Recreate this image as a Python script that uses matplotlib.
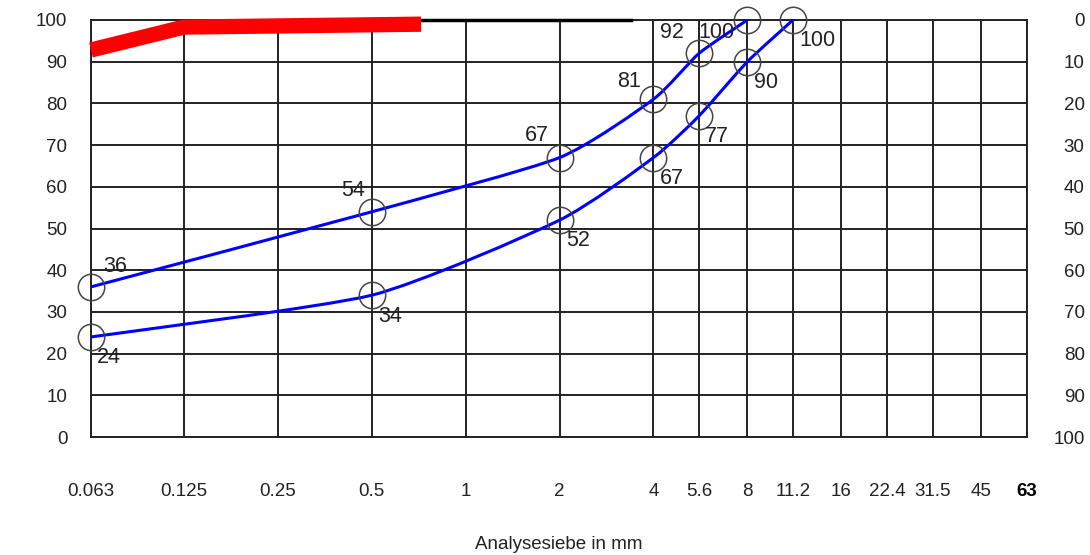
import numpy as np
import matplotlib
matplotlib.use("Agg")
import matplotlib.pyplot as plt
from matplotlib import font_manager as fm
from matplotlib.path import Path
from matplotlib.patches import PathPatch

sieves = [0.063, 0.125, 0.25, 0.5, 1, 2, 4, 5.6, 8, 11.2, 16, 22.4, 31.5, 45, 63]
sieve_labels = ["0.063", "0.125", "0.25", "0.5", "1", "2", "4", "5.6", "8", "11.2",
                "16", "22.4", "31.5", "45", "63"]

upper_x = [0.063, 0.5, 2, 4, 5.6, 8]
upper_y = [36, 54, 67, 81, 92, 100]
lower_x = [0.063, 0.5, 2, 4, 5.6, 8, 11.2]
lower_y = [24, 34, 52, 67, 77, 90, 100]

red_x = [0.063, 0.125, 0.72]
red_y = [92.8, 98.3, 99.0]
black_x = [0.72, 3.4]
black_y = [100, 100]

left_ticks = list(range(0, 101, 10))
right_labels = [str(100 - v) for v in left_ticks]

names = {f.name for f in fm.fontManager.ttflist}
base_font = "Liberation Sans" if "Liberation Sans" in names else "DejaVu Sans"
narrow_font = "Liberation Sans Narrow" if "Liberation Sans Narrow" in names else base_font
plt.rcParams["font.family"] = base_font

fig = plt.figure(figsize=(10.9, 5.55), dpi=100)
ax = fig.add_axes([91/1090, 1-437/555, (1027-91)/1090, (437-20)/555])
ax.set_xscale("log")
ax.set_xlim(0.063, 63)
ax.set_ylim(0, 100)

# grid
for s in sieves:
    ax.axvline(s, color="#222222", lw=1.4, zorder=1)
for v in left_ticks:
    ax.axhline(v, color="#222222", lw=1.4, zorder=1)
for sp in ax.spines.values():
    sp.set_color("#222222")
    sp.set_linewidth(1.4)

ax.plot(black_x, black_y, color="black", lw=2.5, zorder=3, clip_on=False)
ax.plot(red_x, red_y, color="#ff0000", lw=11, zorder=4, solid_capstyle="butt", clip_on=False)


def smooth_path(xs, ys, t=0.3):
    """Gentle Catmull-Rom style bezier path through the points (log-x space)."""
    lx = np.log10(xs)
    p = np.column_stack([lx, ys]).astype(float)
    n = len(p)
    verts = [p[0]]
    codes = [Path.MOVETO]
    for i in range(n - 1):
        p0 = p[i - 1] if i > 0 else p[i]
        p1, p2 = p[i], p[i + 1]
        p3 = p[i + 2] if i + 2 < n else p[i + 1]
        c1 = p1 + (p2 - p0) * t / 3
        c2 = p2 - (p3 - p1) * t / 3
        verts += [c1, c2, p2]
        codes += [Path.CURVE4] * 3
    verts = np.array(verts)
    verts[:, 0] = 10 ** verts[:, 0]
    return Path(verts, codes)


for xs, ys in [(upper_x, upper_y), (lower_x, lower_y)]:
    ax.add_patch(PathPatch(smooth_path(xs, ys), facecolor="none", edgecolor="#0000ff",
                           lw=2.2, zorder=5, clip_on=False))
    ax.plot(xs, ys, linestyle="none", marker="o", ms=19, mfc="none", mec="#444444",
            mew=1.1, zorder=6, clip_on=False)

# labels
fs = 15.5
upper_off = [(9, 15), (-5, 15), (-8, 16), (-9, 13), (-11, 15), (-9, -9)]
for x, y, (dx, dy) in zip(upper_x, upper_y, upper_off):
    ha = "left" if dx > 0 else "right"
    ax.annotate(str(y), (x, y), xytext=(dx, dy), textcoords="offset points",
                ha=ha, va="center", fontsize=fs, color="#222222", zorder=7)
for x, y in zip(lower_x, lower_y):
    ax.annotate(str(y), (x, y), xytext=(4.5, -15), textcoords="offset points",
                ha="left", va="center", fontsize=fs, color="#222222", zorder=7)

ax.set_xticks(sieves)
ax.set_xticklabels(sieve_labels, fontsize=13.5, family=narrow_font, color="#222222")
ax.get_xticklabels()[-1].set_fontweight("bold")
ax.get_xticklabels()[-1].set_color("black")
ax.xaxis.set_minor_locator(matplotlib.ticker.NullLocator())
ax.tick_params(axis="x", length=0, pad=33)
ax.set_yticks(left_ticks)
ax.set_yticklabels([str(v) for v in left_ticks], fontsize=13.5, color="#222222")
ax.tick_params(axis="y", length=0, pad=17)

ax2 = ax.twinx()
ax2.set_ylim(0, 100)
ax2.set_yticks(left_ticks)
ax2.set_yticklabels(right_labels, fontsize=13.5, ha="right", color="#222222")
ax2.tick_params(axis="y", length=0, pad=41.5)
for sp in ax2.spines.values():
    sp.set_visible(False)

ax.set_xlabel("Analysesiebe in mm", fontsize=13.5, family=narrow_font, color="#222222",
              labelpad=26)

fig.savefig("out.png", dpi=100)
